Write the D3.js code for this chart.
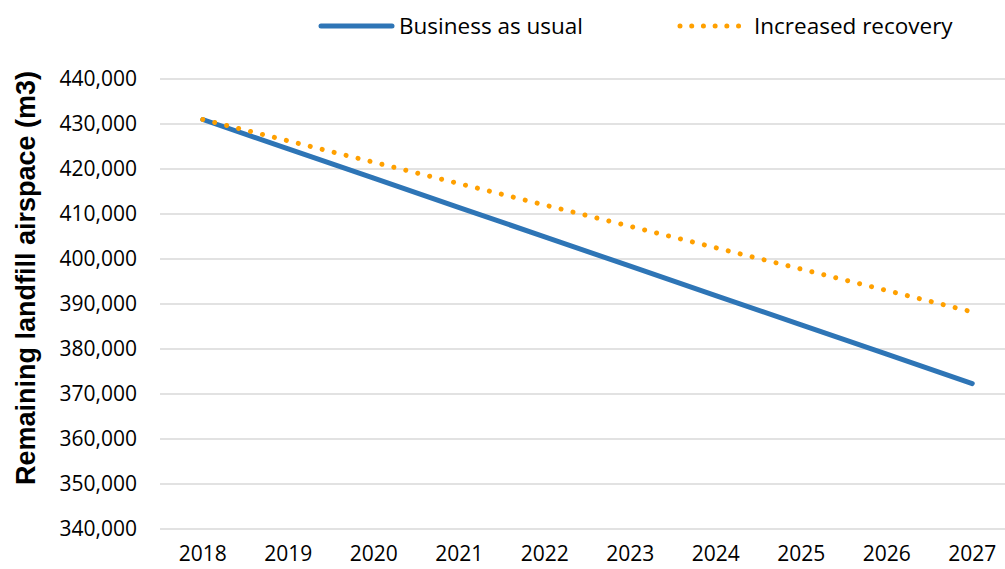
<!DOCTYPE html>
<html>
<head>
<meta charset="utf-8">
<script src="https://cdn.jsdelivr.net/npm/d3@7"></script>
<style>
  body { margin: 0; background: #fff; }
  text { font-family: "Open Sans", sans-serif; fill: #000; }
</style>
</head>
<body>
<script>
// data
let years = ["2018", "2019", "2020", "2021", "2022", "2023", "2024", "2025", "2026", "2027"];
let businessAsUsual = [431000, 424480, 417960, 411440, 404920, 398400, 391880, 385360, 378840, 372320];
let increasedRecovery = [431000, 426250, 421500, 416750, 412000, 407250, 402500, 397750, 393000, 388250];
let yTicks = [340000, 350000, 360000, 370000, 380000, 390000, 400000, 410000, 420000, 430000, 440000];

let seriesNames = ["Business as usual", "Increased recovery"];
let series = [
  {name: seriesNames[0], values: businessAsUsual, color: "#2e75b6", dash: null},
  {name: seriesNames[1], values: increasedRecovery, color: "#ffa000", dash: "0.01,12.3"}
];

let width = 1005;
let height = 569;
let margin = {top: 79, right: -10, bottom: 40, left: 160};

let x = d3.scaleBand()
          .domain(years)
          .range([margin.left, width - margin.right]);

let y = d3.scaleLinear()
          .domain([340000, 440000])
          .range([height - margin.bottom, margin.top]);

let svg = d3.select("body")
            .append("svg")
            .attr("width", width)
            .attr("height", height);

// gridlines
svg.append("g")
   .selectAll("line")
   .data(yTicks)
   .enter().append("line")
           .attr("x1", margin.left)
           .attr("x2", width - margin.right)
           .attr("y1", d => y(d))
           .attr("y2", d => y(d))
           .attr("stroke", "#d9d9d9")
           .attr("stroke-width", 1.3);

// axes
let fmt = d3.format(",");
let yAxis = svg.append("g")
               .attr("transform", `translate(${margin.left},0)`)
               .call(d3.axisLeft(y).tickValues(yTicks).tickFormat(fmt).tickSize(0).tickPadding(23));
yAxis.select(".domain").remove();
yAxis.selectAll("text").style("font-size", "21px").style("font-family", "'Open Sans', sans-serif");

let xAxis = svg.append("g")
               .attr("transform", `translate(0,${height - margin.bottom})`)
               .call(d3.axisBottom(x).tickSize(0).tickPadding(17));
xAxis.select(".domain").remove();
xAxis.selectAll("text").style("font-size", "21px").style("font-family", "'Open Sans', sans-serif");

// y title
svg.append("text")
   .attr("transform", `translate(35,${278}) rotate(-90)`)
   .attr("text-anchor", "middle")
   .style("font-family", "'Liberation Sans', Arial, sans-serif")
   .style("font-weight", "bold")
   .style("font-size", "27px")
   .text("Remaining landfill airspace (m3)");

// lines
let line = d3.line()
             .x((d, i) => x(years[i]) + x.bandwidth() / 2)
             .y(d => y(d));

series.forEach(function(s) {
  svg.append("path")
     .datum(s.values)
     .attr("d", line)
     .attr("fill", "none")
     .attr("stroke", s.color)
     .attr("stroke-width", 5)
     .attr("stroke-linecap", "round")
     .attr("stroke-linejoin", "round")
     .attr("stroke-dasharray", s.dash);
});

// legend
let legendItems = [
  {x1: 321, x2: 392, tx: 399},
  {x1: 680, x2: 746, tx: 754}
];
series.forEach(function(s, i) {
  let li = legendItems[i];
  svg.append("line")
     .attr("x1", li.x1).attr("x2", li.x2)
     .attr("y1", 26).attr("y2", 26)
     .attr("stroke", s.color)
     .attr("stroke-width", 5)
     .attr("stroke-linecap", "round")
     .attr("stroke-dasharray", s.dash ? "0.01,11.7" : null);
  svg.append("text")
     .attr("x", li.tx)
     .attr("y", 26)
     .attr("dy", "0.35em")
     .style("font-size", "22.5px")
     .text(s.name);
});
</script>
</body>
</html>
